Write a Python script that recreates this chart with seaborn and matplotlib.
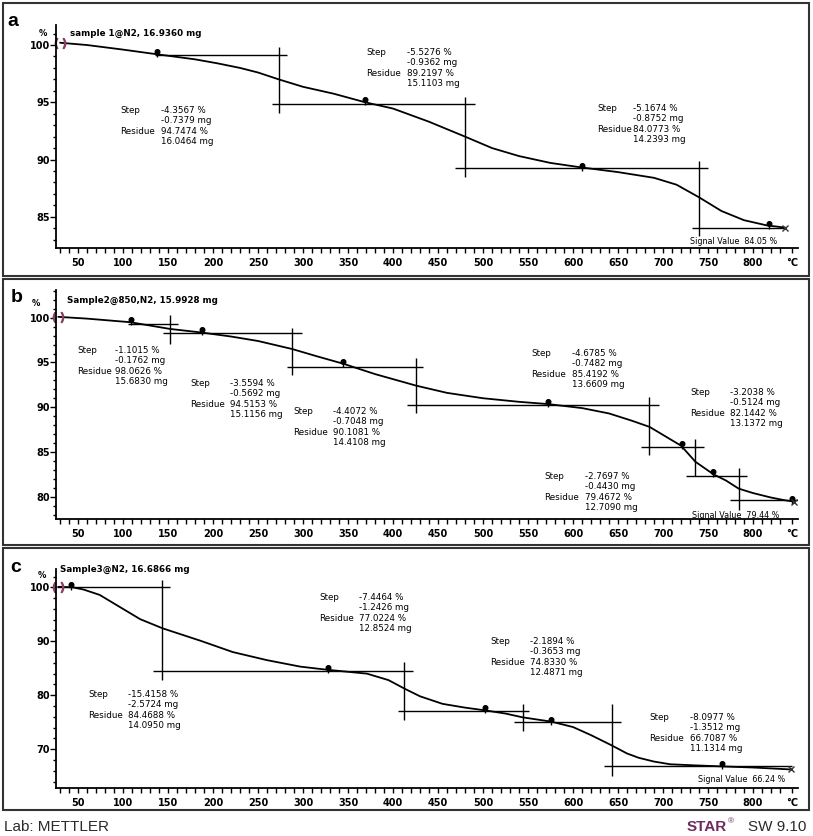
import matplotlib
matplotlib.use("Agg")
import matplotlib.pyplot as plt
import seaborn as sns
from matplotlib.markers import MarkerStyle
from matplotlib.transforms import Affine2D
from matplotlib.patches import Rectangle
from matplotlib.ticker import FixedLocator, MultipleLocator

# TGA curves of three samples (temperature in degC, residual mass in %)

# ---- panel a ----
title_a = "sample 1@N2, 16.9360 mg"
temp_a = [30, 60, 100, 137, 180, 205, 230, 250, 273, 300, 334, 369, 400, 440, 480,
          510, 540, 575, 610, 650, 690, 715, 740, 765, 790, 815, 836]
mass_a = [100.2, 100.0, 99.6, 99.2, 98.75, 98.4, 98.0, 97.6, 97.0, 96.35, 95.75, 95.0,
          94.45, 93.3, 92.0, 91.0, 90.3, 89.7, 89.3, 88.9, 88.4, 87.8, 86.7, 85.5,
          84.7, 84.25, 84.05]
hlines_a = [(99.13, 135.6, 282), (94.85, 265.5, 491), (89.26, 469, 750), (84.0, 732, 836)]
vlines_a = [(273, 99.8, 94.1), (480, 95.5, 88.5), (740, 89.9, 83.3)]
pins_a = [(137.4, 99.2), (369, 95.0), (610, 89.3), (818, 84.2)]
steps_a = [("-4.3567 %", "-0.7379 mg", "94.7474 %", "16.0464 mg"),
           ("-5.5276 %", "-0.9362 mg", "89.2197 %", "15.1103 mg"),
           ("-5.1674 %", "-0.8752 mg", "84.0773 %", "14.2393 mg")]
signal_a = "84.05 %"

# ---- panel b ----
title_b = "Sample2@850,N2, 15.9928 mg"
temp_b = [28, 60, 108, 152, 187, 220, 250, 288, 315, 345, 380, 426, 460, 500, 540,
          572, 610, 640, 665, 685, 700, 720, 736, 756, 770, 784, 800, 820, 835, 846]
mass_b = [100.1, 99.9, 99.5, 98.75, 98.35, 97.9, 97.4, 96.5, 95.7, 94.85, 93.7, 92.4,
          91.6, 91.0, 90.6, 90.35, 89.9, 89.3, 88.5, 87.8, 86.9, 85.7, 83.9, 82.5,
          81.8, 80.9, 80.4, 79.9, 79.6, 79.44]
hlines_b = [(99.26, 105.8, 161), (98.25, 144, 298.5), (94.5, 282.6, 433.7),
            (90.25, 416, 695), (85.6, 675, 745), (82.35, 726, 793), (79.63, 774, 850)]
vlines_b = [(152, 100.3, 97.1), (287.8, 98.9, 93.6), (425.6, 95.5, 89.4),
            (684.8, 91.1, 84.66), (736, 86.4, 82.3), (784.4, 83.2, 78.5)]
pins_b = [(108.5, 99.55), (187.4, 98.4), (344.8, 94.85), (572, 90.35),
          (720.7, 85.7), (756, 82.5), (843, 79.5)]
steps_b = [("-1.1015 %", "-0.1762 mg", "98.0626 %", "15.6830 mg"),
           ("-3.5594 %", "-0.5692 mg", "94.5153 %", "15.1156 mg"),
           ("-4.4072 %", "-0.7048 mg", "90.1081 %", "14.4108 mg"),
           ("-4.6785 %", "-0.7482 mg", "85.4192 %", "13.6609 mg"),
           ("-3.2038 %", "-0.5124 mg", "82.1442 %", "13.1372 mg"),
           ("-2.7697 %", "-0.4430 mg", "79.4672 %", "12.7090 mg")]
signal_b = "79.44 %"

# ---- panel c ----
title_c = "Sample3@N2, 16.6866 mg"
temp_c = [28, 44, 56, 74, 97, 119, 144, 186, 222, 260, 297, 328, 371, 395, 413, 430,
          455, 480, 502, 525, 544, 576, 600, 620, 643, 660, 673, 690, 708, 735, 766,
          800, 842]
mass_c = [100.1, 100.0, 99.6, 98.6, 96.3, 94.1, 92.4, 90.1, 88.0, 86.5, 85.3, 84.7,
          84.0, 82.8, 81.2, 79.8, 78.4, 77.7, 77.2, 76.6, 75.9, 75.1, 74.1, 72.6,
          70.7, 69.2, 68.4, 67.7, 67.2, 67.0, 66.8, 66.6, 66.24]
hlines_c = [(100.0, 27, 152), (84.56, 133.7, 422.6), (77.1, 406, 551),
            (75.0, 534, 653), (66.86, 634, 843)]
vlines_c = [(143.7, 101.4, 82.9), (412.6, 86.1, 75.4), (544, 78.4, 73.3), (643, 78.4, 65.1)]
pins_c = [(42, 100.0), (328, 84.7), (502, 77.2), (576, 75.1), (766, 66.8)]
steps_c = [("-7.4464 %", "-1.2426 mg", "77.0224 %", "12.8524 mg"),
           ("-2.1894 %", "-0.3653 mg", "74.8330 %", "12.4871 mg"),
           ("-15.4158 %", "-2.5724 mg", "84.4688 %", "14.0950 mg"),
           ("-8.0977 %", "-1.3512 mg", "66.7087 %", "11.1314 mg")]
signal_c = "66.24 %"

x_tick_values = [50, 100, 150, 200, 250, 300, 350, 400, 450, 500, 550, 600, 650, 700, 750, 800]

# ---- layout (pixels of the 813x836 canvas) ----
W, H = 813, 836
layout = [
    dict(letter="a", box=(3, 276), ax_px=(25, 248), ylim=(82.27, 101.75), ymaj=5, ymin=1,
         letter_xy=(13, 22), title_xy=(70, 33), pct_xy=(43, 33),
         blocks=[(120, 161, 111), (366, 407, 53), (597, 633, 109)],
         signal_xy=(690, 241)),
    dict(letter="b", box=(279, 545), ax_px=(290, 519), ylim=(77.5, 103.1), ymaj=5, ymin=1,
         letter_xy=(17, 298), title_xy=(67, 300), pct_xy=(36, 304),
         blocks=[(77, 115, 351), (190, 230, 384), (293, 333, 412),
                 (531, 572, 354), (690, 730, 393), (544, 585, 477)],
         signal_xy=(692, 515)),
    dict(letter="c", box=(548, 810), ax_px=(569, 788), ylim=(62.8, 103.4), ymaj=10, ymin=2,
         letter_xy=(16, 568), title_xy=(60, 569), pct_xy=(42, 576),
         blocks=[(319, 359, 598), (490, 530, 642), (88, 128, 695), (649, 690, 718)],
         signal_xy=(698, 780)),
]
series = [
    (title_a, temp_a, mass_a, hlines_a, vlines_a, pins_a, steps_a, signal_a),
    (title_b, temp_b, mass_b, hlines_b, vlines_b, pins_b, steps_b, signal_b),
    (title_c, temp_c, mass_c, hlines_c, vlines_c, pins_c, steps_c, signal_c),
]

sns.set_style("ticks")
plt.rcParams["font.family"] = ["DejaVu Sans"]
plt.rcParams.update({"text.color": "black", "xtick.color": "black", "ytick.color": "black",
                     "axes.labelcolor": "black"})

fig = plt.figure(figsize=(W / 100, H / 100), dpi=100)


def fx(px):
    return px / W


def fy(py):
    return 1 - py / H


pin_head = MarkerStyle("o", transform=Affine2D().translate(0, 0.55))
AX_L, AX_R = 56, 798

for lay, (title, temp, mass, hl, vl, pins, steps, signal) in zip(layout, series):
    top, bot = lay["ax_px"]
    ax = fig.add_axes([fx(AX_L), fy(bot), (AX_R - AX_L) / W, (bot - top) / H])
    ax.patch.set_alpha(0)

    sns.lineplot(x=temp, y=mass, ax=ax, color="black", linewidth=1.3, estimator=None)
    for y, x0, x1 in hl:
        ax.hlines(y, x0, x1, color="black", linewidth=1.0)
    for x, y0, y1 in vl:
        ax.vlines(x, y1, y0, color="black", linewidth=1.0)
    px_, py_ = zip(*pins)
    ax.plot(px_, py_, ls="none", marker="|", ms=5, mew=1.0, color="black")
    ax.plot(px_, py_, ls="none", marker=pin_head, ms=3.3, color="black")
    ax.plot(temp[0], mass[0], ls="none", marker=r"$(\ )$", ms=7.5, color="#8b3f66", clip_on=False)
    ax.plot(temp[-1], mass[-1], ls="none", marker="x", ms=5, mew=1.0, color="#333333", clip_on=False)

    ax.set_xlim(25.5, 850)
    ax.set_ylim(*lay["ylim"])
    ax.xaxis.set_major_locator(FixedLocator(x_tick_values + [843]))
    ax.set_xticklabels([str(v) for v in x_tick_values] + ["°C"])
    ax.xaxis.set_minor_locator(FixedLocator(list(range(30, 840, 10))))
    ax.yaxis.set_major_locator(MultipleLocator(lay["ymaj"]))
    ax.yaxis.set_minor_locator(MultipleLocator(lay["ymin"]))
    ax.tick_params(axis="x", which="both", direction="out", length=3.5, width=1.0,
                   labelsize=7, pad=4)
    ax.tick_params(axis="y", which="major", direction="out", length=4, width=1.0,
                   labelsize=7, pad=0.5)
    ax.tick_params(axis="y", which="minor", direction="out", length=2.5, width=1.0)
    plt.setp(ax.get_xticklabels() + ax.get_yticklabels(), fontweight="bold")
    for s in ["top", "right"]:
        ax.spines[s].set_visible(False)
    for s in ["left", "bottom"]:
        ax.spines[s].set_linewidth(1.3)
        ax.spines[s].set_color("black")
    ax.set_xlabel("")
    ax.set_ylabel("")

    # panel frame, letter, sample title, unit
    b0, b1 = lay["box"]
    fig.add_artist(Rectangle((fx(3), fy(b1)), (809 - 3) / W, (b1 - b0) / H,
                             transform=fig.transFigure, fill=False, lw=1.5, ec="#333333"))
    fig.text(fx(lay["letter_xy"][0]), fy(lay["letter_xy"][1]), lay["letter"],
             family="Liberation Sans", fontweight="bold", fontsize=14, ha="center", va="center")
    fig.text(fx(lay["title_xy"][0]), fy(lay["title_xy"][1]), title,
             fontweight="bold", fontsize=6.3, ha="left", va="center")
    fig.text(fx(lay["pct_xy"][0]), fy(lay["pct_xy"][1]), "%",
             fontweight="bold", fontsize=6, ha="center", va="center")

    # step / residue evaluation blocks
    for (lx, vx, ly), vals in zip(lay["blocks"], steps):
        fig.text(fx(lx), fy(ly - 5), "Step\n\nResidue", fontsize=6.3,
                 ha="left", va="top", linespacing=1.2)
        fig.text(fx(vx), fy(ly - 5), "\n".join(vals), fontsize=6.3,
                 ha="left", va="top", linespacing=1.2)
    sx, sy = lay["signal_xy"]
    fig.text(fx(sx), fy(sy), "Signal Value  " + signal, fontsize=5.8, ha="left", va="center")

# footer
fig.text(fx(4), fy(827), "Lab: METTLER", family="Liberation Sans", fontsize=11,
         color="#2b2b2b", ha="left", va="center")
fig.text(fx(727), fy(827), "STAR", family="Liberation Sans", fontsize=11,
         fontweight="bold", color="#6e2c5e", ha="right", va="center")
fig.text(fx(728), fy(822), "®", family="Liberation Sans", fontsize=6,
         color="#6e2c5e", ha="left", va="center")
fig.text(fx(806), fy(827), "SW 9.10", family="Liberation Sans", fontsize=11,
         color="#2b2b2b", ha="right", va="center")

fig.savefig("out.png", dpi=100)
